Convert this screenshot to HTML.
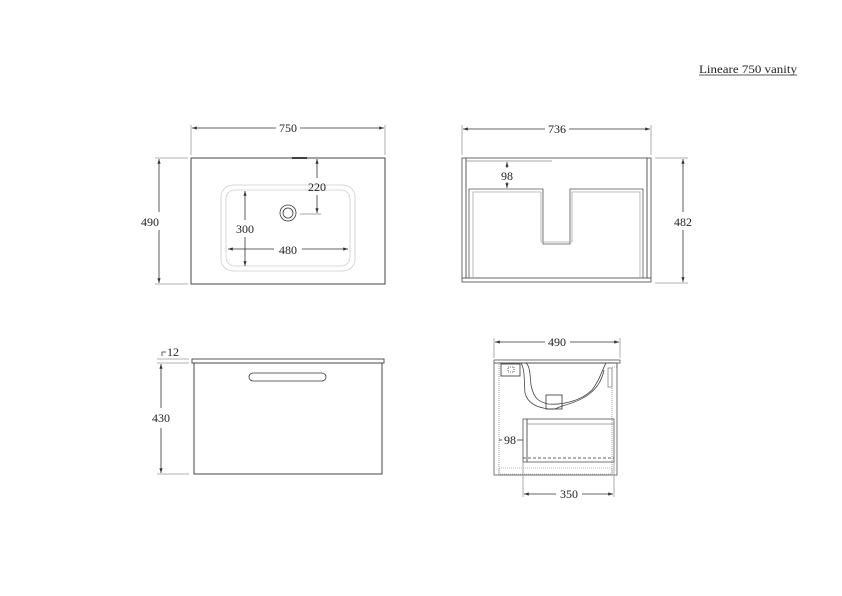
<!DOCTYPE html>
<html><head><meta charset="utf-8"><style>
html,body{margin:0;padding:0;background:#fff}
svg{display:block}
text{font-family:"Liberation Serif",serif;font-size:12px;fill:#222}
</style></head><body>
<svg width="842" height="596" viewBox="0 0 842 596" xmlns="http://www.w3.org/2000/svg">
<defs>
<marker id="a" markerWidth="6" markerHeight="4" refX="6" refY="2" orient="auto-start-reverse"><path d="M0,0 L6,2 L0,4z" fill="#333"/></marker>
</defs>
<g stroke="#333" fill="none" stroke-width="0.8">
<line x1="699" y1="75" x2="797" y2="75" stroke="#222"/>
<rect x="191" y="158" width="194" height="126" stroke="#444" stroke-width="1"/>
<line x1="292" y1="158" x2="307" y2="158" stroke="#000" stroke-width="1.5"/>
<rect x="221" y="185" width="134" height="86" rx="12" stroke="#ccc"/>
<rect x="226" y="190" width="124" height="76" rx="9" stroke="#ccc"/>
<circle cx="288" cy="213" r="8"/>
<circle cx="288" cy="213" r="5"/>
<line x1="300" y1="214" x2="321" y2="214" stroke="#888"/>
<line x1="191" y1="125" x2="191" y2="155" stroke="#999"/>
<line x1="385" y1="125" x2="385" y2="155" stroke="#999"/>
<line x1="192" y1="128" x2="276" y2="128" marker-start="url(#a)"/>
<line x1="300" y1="128" x2="384" y2="128" marker-end="url(#a)"/>
<line x1="155" y1="158" x2="188" y2="158" stroke="#999"/>
<line x1="155" y1="284" x2="188" y2="284" stroke="#999"/>
<line x1="159" y1="159" x2="159" y2="212" marker-start="url(#a)"/>
<line x1="159" y1="230" x2="159" y2="283" marker-end="url(#a)"/>
<line x1="317" y1="159" x2="317" y2="178" marker-start="url(#a)"/>
<line x1="317" y1="195" x2="317" y2="213" marker-end="url(#a)"/>
<line x1="245" y1="191" x2="245" y2="220" marker-start="url(#a)"/>
<line x1="245" y1="237" x2="245" y2="266" marker-end="url(#a)"/>
<line x1="228" y1="249" x2="274" y2="249" marker-start="url(#a)"/>
<line x1="302" y1="249" x2="348" y2="249" marker-end="url(#a)"/>
<rect x="462" y="158" width="189" height="124" stroke="#444"/>
<line x1="466" y1="158" x2="466" y2="278"/>
<line x1="647" y1="158" x2="647" y2="278"/>
<line x1="466" y1="161" x2="552" y2="161" stroke="#888"/>
<line x1="462" y1="278" x2="651" y2="278"/>
<path d="M469,278 V189 H543 V244 H570 V189 H643 V278" stroke="#555"/>
<path d="M473,278 V192 H541 V242 H572 V192 H640 V278" stroke="#aaa"/>
<line x1="462" y1="125" x2="462" y2="155" stroke="#999"/>
<line x1="651" y1="125" x2="651" y2="155" stroke="#999"/>
<line x1="463" y1="129" x2="545" y2="129" marker-start="url(#a)"/>
<line x1="569" y1="129" x2="650" y2="129" marker-end="url(#a)"/>
<line x1="655" y1="158" x2="688" y2="158" stroke="#999"/>
<line x1="655" y1="283" x2="688" y2="283" stroke="#999"/>
<line x1="683" y1="159" x2="683" y2="212" marker-start="url(#a)"/>
<line x1="683" y1="230" x2="683" y2="282" marker-end="url(#a)"/>
<line x1="507" y1="162" x2="507" y2="168" marker-start="url(#a)"/>
<line x1="507" y1="182" x2="507" y2="188" marker-end="url(#a)"/>
<rect x="192" y="359" width="192" height="4" stroke="#555" stroke-width="1"/>
<rect x="194" y="363" width="188" height="111" stroke="#444" stroke-width="1"/>
<rect x="249" y="373" width="77" height="8" rx="4"/>
<line x1="157" y1="359" x2="189" y2="359" stroke="#999"/>
<line x1="157" y1="363" x2="189" y2="363" stroke="#999"/>
<line x1="157" y1="474" x2="189" y2="474" stroke="#999"/>
<path d="M162,356 V352 H166"/>
<line x1="161" y1="364" x2="161" y2="408" marker-start="url(#a)"/>
<line x1="161" y1="428" x2="161" y2="473" marker-end="url(#a)"/>
<rect x="494" y="360" width="126" height="3" stroke="#555"/>
<rect x="494" y="363" width="123" height="112" stroke="#444"/>
<rect x="494" y="363" width="5" height="112" stroke="#888" stroke-dasharray="1,1"/>
<rect x="612" y="367" width="5" height="108" stroke="#888" stroke-dasharray="1,1"/>
<rect x="499" y="468" width="113" height="6" stroke="#aaa" stroke-dasharray="1,1"/>
<rect x="501" y="364" width="19" height="12"/>
<rect x="508" y="367" width="6" height="5" stroke-dasharray="1,1"/>
<path d="M526,363 C530,366 530,375 531,385 C534,400 540,402 548,404 C560,405 580,402 592,390 C600,380 602,370 606,363" stroke="#444"/>
<path d="M521,363 C525,370 524,380 525,393 C528,405 540,408 549,409 L555,409 L562,406 C585,400 600,390 604,370" stroke="#444"/>
<rect x="546" y="395" width="16" height="14"/>
<rect x="608" y="368" width="4" height="19" stroke="#888"/>
<rect x="523" y="419" width="91" height="43" stroke="#555"/>
<line x1="527" y1="419" x2="527" y2="462"/>
<line x1="527" y1="424" x2="614" y2="424" stroke="#888"/>
<line x1="523" y1="458" x2="614" y2="458" stroke-dasharray="3,2"/>
<line x1="494" y1="338" x2="494" y2="358" stroke="#999"/>
<line x1="620" y1="338" x2="620" y2="358" stroke="#999"/>
<line x1="495" y1="342" x2="545" y2="342" marker-start="url(#a)"/>
<line x1="570" y1="342" x2="619" y2="342" marker-end="url(#a)"/>
<line x1="523" y1="462" x2="523" y2="497" stroke="#999"/>
<line x1="614" y1="462" x2="614" y2="497" stroke="#999"/>
<line x1="524" y1="494" x2="556" y2="494" marker-start="url(#a)"/>
<line x1="582" y1="494" x2="613" y2="494" marker-end="url(#a)"/>
<line x1="499" y1="440" x2="502" y2="440"/>
<line x1="517" y1="440" x2="523" y2="440"/>
</g>
<text x="699" y="73" font-size="12" textLength="98" lengthAdjust="spacingAndGlyphs">Lineare 750 vanity</text>
<text x="288" y="132" text-anchor="middle">750</text>
<text x="150" y="226" text-anchor="middle">490</text>
<text x="317" y="191" text-anchor="middle">220</text>
<text x="245" y="233" text-anchor="middle">300</text>
<text x="288" y="254" text-anchor="middle">480</text>
<text x="557" y="133" text-anchor="middle">736</text>
<text x="683" y="226" text-anchor="middle">482</text>
<text x="507" y="180" text-anchor="middle">98</text>
<text x="173" y="356" text-anchor="middle">12</text>
<text x="161" y="422" text-anchor="middle">430</text>
<text x="557" y="346" text-anchor="middle">490</text>
<text x="510" y="444" text-anchor="middle">98</text>
<text x="569" y="498" text-anchor="middle">350</text>
</svg>
</body></html>
